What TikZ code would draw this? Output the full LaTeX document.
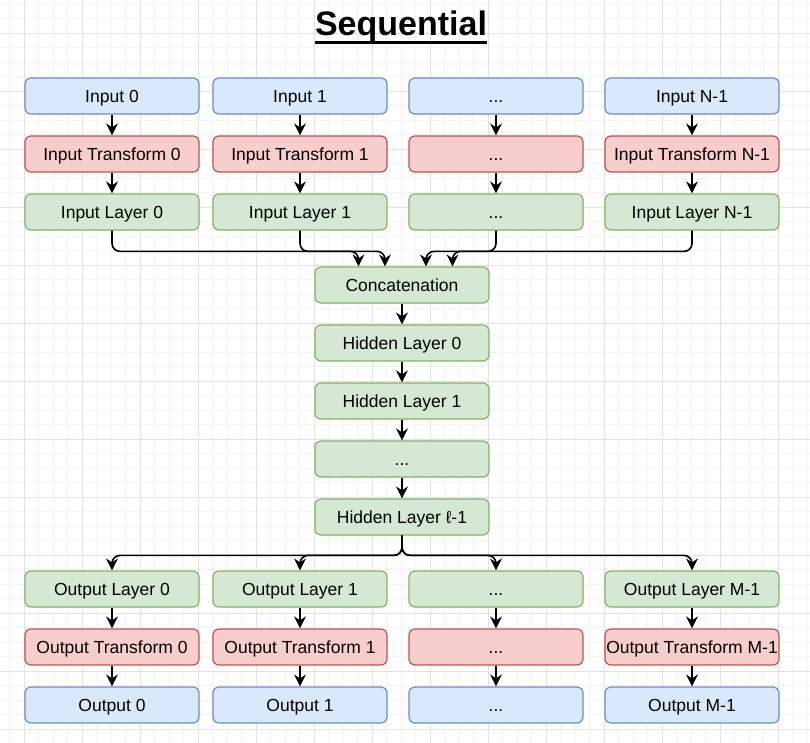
\documentclass[tikz,border=0pt]{standalone}
\usepackage{fontspec}
\setmainfont{Liberation Sans}
\usepackage{xcolor}
\usepackage{tikz}
\usetikzlibrary{arrows.meta,positioning}
\definecolor{inputfill}{HTML}{DAE8FC}
\definecolor{inputline}{HTML}{6C8EBF}
\definecolor{transfill}{HTML}{F8CECC}
\definecolor{transline}{HTML}{B85450}
\definecolor{layerfill}{HTML}{D5E8D4}
\definecolor{layerline}{HTML}{82B366}
\definecolor{gridminor}{HTML}{F3F3F3}
\definecolor{gridmajor}{HTML}{E2E2E2}
\newcommand{\thickul}[1]{\setbox0\hbox{#1}\rlap{\rule[-8pt]{\wd0}{2.5pt}}\box0}

\begin{document}
\begin{tikzpicture}[
  x=1pt, y=-1pt,
  every node/.style={font=\fontsize{17.5pt}{20pt}\selectfont},
  box/.style={
    draw,
    rectangle,
    rounded corners=6pt,
    align=center,
    minimum width=174pt,
    minimum height=36pt,
    text height=15pt,
    text depth=2.5pt,
    inner sep=0pt,
    line width=1.2pt
  },
  iobox/.style={box, fill=inputfill, draw=inputline},
  tfbox/.style={box, fill=transfill, draw=transline},
  lybox/.style={box, fill=layerfill, draw=layerline},
  arr/.style={-{Stealth[length=12pt,width=12pt,inset=4pt]}, line width=1.6pt},
  fan/.style={arr, rounded corners=8pt}
]

% background and grid
\fill[white] (0,0) rectangle (810,743);
\useasboundingbox (0,0) rectangle (810,743);
\foreach \i in {0,...,55} \draw[gridminor, line width=0.8pt] ({9.8+14.5*\i},0) -- ({9.8+14.5*\i},743);
\foreach \i in {0,...,50} \draw[gridminor, line width=0.8pt] (0,{4+14.5*\i}) -- (810,{4+14.5*\i});
\foreach \i in {0,...,13} \draw[gridmajor, line width=0.8pt] ({24.3+58*\i},0) -- ({24.3+58*\i},743);
\foreach \i in {0,...,12} \draw[gridmajor, line width=0.8pt] (0,{33+58*\i}) -- (810,{33+58*\i});

\node[anchor=base] (title) at (401,36) {\fontsize{34pt}{40pt}\selectfont\bfseries\thickul{Sequential}};

% inputs
\node[iobox] (in0) at (112,96) {Input 0};
\node[iobox] (in1) at (300,96) {Input 1};
\node[iobox] (in2) at (496,96) {...};
\node[iobox] (in3) at (692,96) {Input N-1};

\node[tfbox] (it0) at (112,154) {Input Transform 0};
\node[tfbox] (it1) at (300,154) {Input Transform 1};
\node[tfbox] (it2) at (496,154) {...};
\node[tfbox] (it3) at (692,154) {Input Transform N-1};

\node[lybox] (il0) at (112,212) {Input Layer 0};
\node[lybox] (il1) at (300,212) {Input Layer 1};
\node[lybox] (il2) at (496,212) {...};
\node[lybox] (il3) at (692,212) {Input Layer N-1};

% middle stack
\node[lybox] (concat) at (402,285) {Concatenation};
\node[lybox] (hl0) at (402,343) {Hidden Layer 0};
\node[lybox] (hl1) at (402,401) {Hidden Layer 1};
\node[lybox] (hl2) at (402,459) {...};
\node[lybox] (hl3) at (402,517) {Hidden Layer ℓ-1};

% outputs
\node[lybox] (ol0) at (112,589) {Output Layer 0};
\node[lybox] (ol1) at (300,589) {Output Layer 1};
\node[lybox] (ol2) at (496,589) {...};
\node[lybox] (ol3) at (692,589) {Output Layer M-1};

\node[tfbox] (ot0) at (112,647) {Output Transform 0};
\node[tfbox] (ot1) at (300,647) {Output Transform 1};
\node[tfbox] (ot2) at (496,647) {...};
\node[tfbox] (ot3) at (692,647) {Output Transform M-1};

\node[iobox] (out0) at (112,705) {Output 0};
\node[iobox] (out1) at (300,705) {Output 1};
\node[iobox] (out2) at (496,705) {...};
\node[iobox] (out3) at (692,705) {Output M-1};

\draw[arr] (in0) -- (it0);
\draw[arr] (in1) -- (it1);
\draw[arr] (in2) -- (it2);
\draw[arr] (in3) -- (it3);
\draw[arr] (it0) -- (il0);
\draw[arr] (it1) -- (il1);
\draw[arr] (it2) -- (il2);
\draw[arr] (it3) -- (il3);

\draw[fan] (il0.south) |- ([xshift=-43.5pt,yshift=15pt]concat.north) -- ([xshift=-43.5pt]concat.north);
\draw[fan] (il1.south) |- ([xshift=-17pt,yshift=15pt]concat.north) -- ([xshift=-17pt]concat.north);
\draw[fan] (il2.south) |- ([xshift=50.5pt,yshift=15pt]concat.north) -- ([xshift=50.5pt]concat.north);
\draw[fan] (il3.south) |- ([xshift=24pt,yshift=15pt]concat.north) -- ([xshift=24pt]concat.north);

\draw[arr] (concat) -- (hl0);
\draw[arr] (hl0) -- (hl1);
\draw[arr] (hl1) -- (hl2);
\draw[arr] (hl2) -- (hl3);

\draw[fan] (hl3.south) |- ([yshift=15pt]ol0.north) -- (ol0.north);
\draw[fan] (hl3.south) |- ([yshift=15pt]ol1.north) -- (ol1.north);
\draw[fan] (hl3.south) |- ([yshift=15pt]ol2.north) -- (ol2.north);
\draw[fan] (hl3.south) |- ([yshift=15pt]ol3.north) -- (ol3.north);

\draw[arr] (ol0) -- (ot0);
\draw[arr] (ol1) -- (ot1);
\draw[arr] (ol2) -- (ot2);
\draw[arr] (ol3) -- (ot3);
\draw[arr] (ot0) -- (out0);
\draw[arr] (ot1) -- (out1);
\draw[arr] (ot2) -- (out2);
\draw[arr] (ot3) -- (out3);

\end{tikzpicture}
\end{document}
